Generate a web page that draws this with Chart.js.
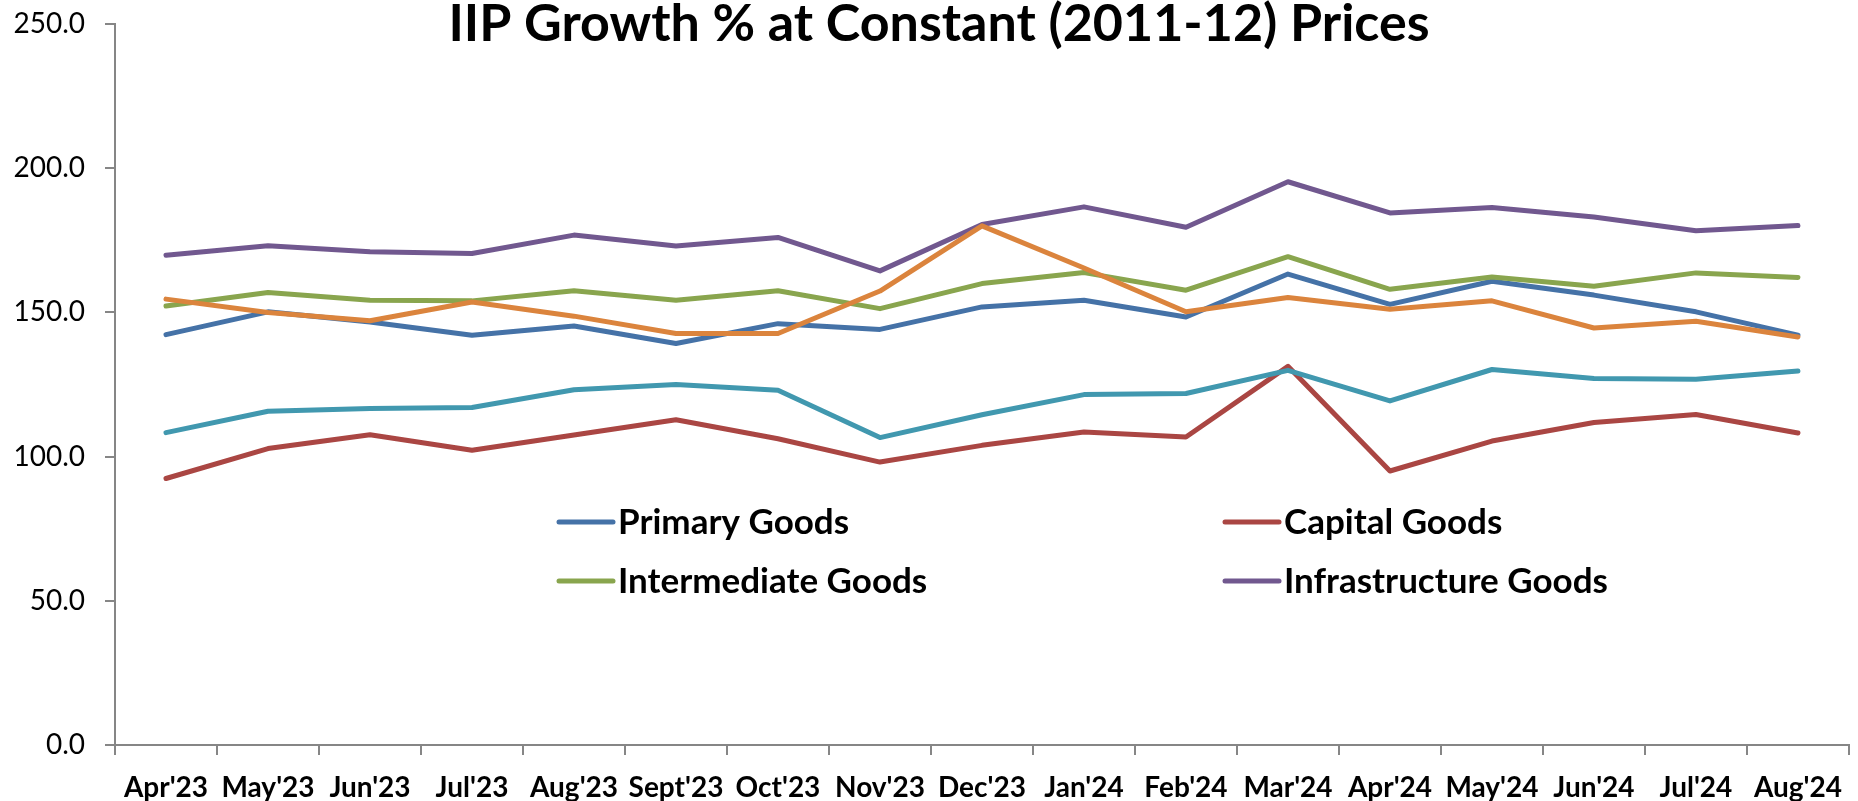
<!DOCTYPE html>
<html>
<head>
<meta charset="utf-8">
<title>IIP Growth % at Constant (2011-12) Prices</title>
<script src="https://cdn.jsdelivr.net/npm/chart.js@4.4.0/dist/chart.umd.min.js"></script>
<style>
  html, body { margin: 0; padding: 0; background: #fff; }
  #wrap { width: 1858px; height: 801px; position: relative; }
</style>
</head>
<body>
<div id="wrap"><canvas id="iipChart"></canvas></div>
<script>
// Use-based IIP index, Apr'23 .. Aug'24
const months = ["Apr'23", "May'23", "Jun'23", "Jul'23", "Aug'23", "Sept'23", "Oct'23", "Nov'23", "Dec'23",
  "Jan'24", "Feb'24", "Mar'24", "Apr'24", "May'24", "Jun'24", "Jul'24", "Aug'24"];

const primaryGoods        = [142.3, 150.2, 146.7, 142.1, 145.3, 139.2, 146.1, 144.1, 151.9, 154.2, 148.4, 163.3, 152.8, 160.8, 156.0, 150.2, 142.1];
const capitalGoods        = [92.4, 102.8, 107.6, 102.2, 107.5, 112.8, 106.2, 98.1, 103.9, 108.5, 106.8, 131.3, 95.0, 105.4, 111.8, 114.6, 108.2];
const intermediateGoods   = [152.2, 156.9, 154.2, 154.0, 157.5, 154.2, 157.5, 151.3, 160.0, 163.8, 157.7, 169.3, 158.0, 162.3, 159.1, 163.7, 162.1];
const infrastructureGoods = [169.8, 173.1, 171.0, 170.4, 176.8, 173.0, 176.0, 164.4, 180.5, 186.6, 179.5, 195.3, 184.5, 186.4, 183.1, 178.3, 180.1];
const consumerDurables    = [108.3, 115.7, 116.7, 117.0, 123.2, 125.0, 123.0, 106.6, 114.5, 121.5, 121.9, 129.9, 119.3, 130.2, 127.1, 126.8, 129.7];
const consumerNonDurables = [154.6, 150.0, 147.1, 153.6, 148.7, 142.7, 142.7, 157.4, 180.0, 165.4, 150.2, 155.2, 151.1, 154.0, 144.6, 146.9, 141.5];

const yTicks = [0, 50, 100, 150, 200, 250];

const chartTitle = "IIP Growth % at Constant (2011-12) Prices";
const legendNames = ['Primary Goods', 'Capital Goods', 'Intermediate Goods', 'Infrastructure Goods'];

const FONT = 'Lato, "Open Sans", sans-serif';
const AXIS_GREY = '#868686';

function series(label, data, color, order) {
  return {
    label: label,
    data: data,
    borderColor: color,
    backgroundColor: color,
    borderWidth: 5,
    borderCapStyle: 'round',
    borderJoinStyle: 'round',
    pointRadius: 0,
    pointHoverRadius: 0,
    tension: 0,
    fill: false,
    order: order
  };
}

// title sits over the plot area, so it is painted by hand
const titlePlugin = {
  id: 'overlayTitle',
  afterDraw(chart) {
    const ctx = chart.ctx;
    ctx.save();
    ctx.font = 'bold 52px ' + FONT;
    ctx.fillStyle = '#000';
    ctx.textAlign = 'center';
    ctx.textBaseline = 'alphabetic';
    ctx.fillText(chartTitle, 939, 41);
    ctx.restore();
  }
};

// two-column legend drawn inside the plot
const legendPlugin = {
  id: 'insideLegend',
  afterDatasetsDraw(chart) {
    const ctx = chart.ctx;
    const slots = [
      { x: 559, y: 522 }, { x: 1225, y: 522 },
      { x: 559, y: 581 }, { x: 1225, y: 581 }
    ];
    ctx.save();
    ctx.font = 'bold 35px ' + FONT;
    ctx.textAlign = 'left';
    ctx.textBaseline = 'alphabetic';
    legendNames.forEach((name, i) => {
      const ds = chart.data.datasets.find(d => d.label === name);
      const s = slots[i];
      ctx.strokeStyle = ds.borderColor;
      ctx.lineWidth = 5;
      ctx.lineCap = 'round';
      ctx.beginPath();
      ctx.moveTo(s.x, s.y);
      ctx.lineTo(s.x + 54, s.y);
      ctx.stroke();
      ctx.fillStyle = '#000';
      ctx.fillText(name, s.x + 59, s.y + 12);
    });
    ctx.restore();
  }
};

const ctx = document.getElementById('iipChart');

new Chart(ctx, {
  type: 'line',
  data: {
    labels: months,
    datasets: [
      series('Primary Goods', primaryGoods, '#4572A7', 6),
      series('Capital Goods', capitalGoods, '#AA4643', 5),
      series('Intermediate Goods', intermediateGoods, '#89A54E', 4),
      series('Infrastructure Goods', infrastructureGoods, '#71588F', 3),
      series('Consumer Durables', consumerDurables, '#4198AF', 2),
      series('Consumer Non-durables', consumerNonDurables, '#DB843D', 1)
    ]
  },
  options: {
    responsive: true,
    maintainAspectRatio: false,
    animation: false,
    layout: { padding: { top: 24, left: 0, right: 0, bottom: 0 } },
    plugins: {
      legend: { display: false },
      title: { display: false },
      tooltip: { enabled: false }
    },
    scales: {
      x: {
        type: 'category',
        offset: true,
        afterFit(scale) {
          scale.height = 56;
        },
        grid: {
          offset: true,
          drawOnChartArea: false,
          drawTicks: true,
          tickLength: 10,
          color: AXIS_GREY,
          lineWidth: 2
        },
        border: { color: AXIS_GREY, width: 2 },
        ticks: {
          autoSkip: false,
          maxRotation: 0,
          minRotation: 0,
          padding: 16,
          color: '#000',
          font: { family: FONT, size: 28, weight: 'bold' }
        }
      },
      y: {
        min: yTicks[0],
        max: yTicks[yTicks.length - 1],
        afterBuildTicks(scale) {
          scale.ticks = yTicks.map(v => ({ value: v }));
        },
        afterFit(scale) {
          // fixed axis width; tick labels may overhang the plot edges
          scale.width = 115;
          scale.paddingTop = 0;
          scale.paddingBottom = 0;
        },
        grid: {
          drawOnChartArea: false,
          drawTicks: true,
          tickLength: 10,
          color: AXIS_GREY,
          lineWidth: 2
        },
        border: { color: AXIS_GREY, width: 2 },
        ticks: {
          padding: 20,
          color: '#000',
          font: { family: FONT, size: 28 },
          callback: v => Number(v).toFixed(1)
        }
      }
    }
  },
  plugins: [titlePlugin, legendPlugin]
});
</script>
</body>
</html>
